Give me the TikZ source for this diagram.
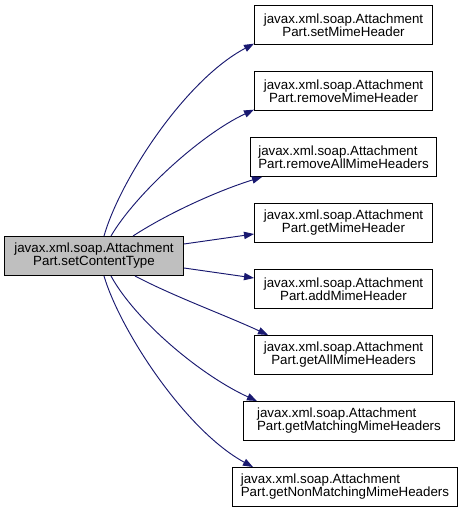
\documentclass[tikz,border=0pt]{standalone}
\usepackage{fontspec}
\setmainfont{Liberation Sans}
\definecolor{dxblue}{HTML}{191970}
\definecolor{dxgray}{HTML}{BFBFBF}
\usetikzlibrary{arrows.meta,positioning}

\begin{document}
\begin{tikzpicture}[x=0.75pt,y=-0.75pt,
  fn/.style={draw=black,line width=0.75pt,fill=white,align=center,
    font=\fontsize{10}{9.75}\selectfont,inner sep=0pt,minimum height=29.25pt,
    minimum width=133.5pt},
  cur/.style={fn,fill=dxgray,minimum width=134.25pt},
  call/.style={-{Triangle[length=7.5pt,width=5.5pt]},line width=0.7pt,dxblue},
  node distance=19.5pt]
  \useasboundingbox (0,0) rectangle (461,509);
  \node[cur] (src) at (94,256) {javax.xml.soap.Attachment\\Part.setContentType};
  \node[fn] (m1) at (343.5,25) {javax.xml.soap.Attachment\\Part.setMimeHeader};
  \node[fn,below=of m1] (m2) {javax.xml.soap.Attachment\\Part.removeMimeHeader};
  \node[fn,below=of m2,align=left,minimum width=139.5pt] (m3)
    {javax.xml.soap.Attachment\\Part.removeAllMimeHeaders};
  \node[fn,below=of m3] (m4) {javax.xml.soap.Attachment\\Part.getMimeHeader};
  \node[fn,below=of m4] (m5) {javax.xml.soap.Attachment\\Part.addMimeHeader};
  \node[fn,below=of m5] (m6) {javax.xml.soap.Attachment\\Part.getAllMimeHeaders};
  \node[fn,below=of m6,align=left,minimum width=158.25pt,xshift=4.1pt] (m7)
    {javax.xml.soap.Attachment\\Part.getMatchingMimeHeaders};
  \node[fn,below=of m7,align=left,minimum width=168.75pt,xshift=-3pt] (m8)
    {javax.xml.soap.Attachment\\Part.getNonMatchingMimeHeaders};
  % calls out of setContentType
  \draw[call] ([xshift=7.5pt]src.north) .. controls (120,180) and (185,80) .. ([yshift=1pt]m1.south west);
  \draw[call] ([xshift=12.75pt]src.north) .. controls (135,195) and (200,135) .. ([yshift=1pt]m2.south west);
  \draw[call] ([xshift=29.25pt]src.north) .. controls (170,212) and (220,190) .. ([xshift=9pt]m3.south west);
  \draw[call] ([yshift=9pt]src.east) -- ([yshift=-8.25pt]m4.west);
  \draw[call] ([yshift=-9pt]src.east) -- ([yshift=8.25pt]m5.west);
  \draw[call] ([xshift=30.75pt]src.south) .. controls (175,297) and (225,315) .. ([xshift=10.5pt]m6.north west);
  \draw[call] ([xshift=12.75pt]src.south) .. controls (135,320) and (200,375) .. ([xshift=10.5pt]m7.north west);
  \draw[call] ([xshift=7.5pt]src.south) .. controls (120,330) and (185,430) .. ([xshift=15.75pt]m8.north west);
\end{tikzpicture}
\end{document}
